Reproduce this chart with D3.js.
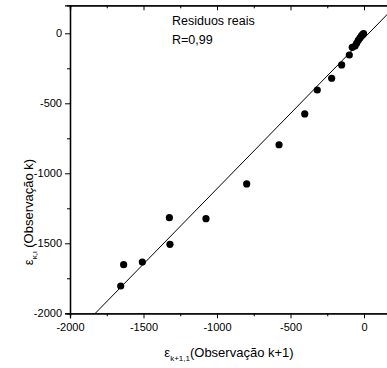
<!DOCTYPE html>
<html><head><meta charset="utf-8">
<script src="https://cdn.jsdelivr.net/npm/d3@7"></script>
<style>body{margin:0;background:#fff;} svg{display:block;font-family:"Liberation Sans",Arial,sans-serif;}</style>
</head><body>
<script>
const xObs = [-1655,-1635,-1508,-1324,-1320,-1075,-798,-578,-403,-318,-220,-152,-100,-80,-61,-50,-39,-27,-16,-8,-3];
const yObs = [-1805,-1653,-1634,-1317,-1507,-1324,-1076,-796,-576,-405,-321,-226,-155,-100,-91,-71,-50,-32,-16,-8,-2];
const fitIntercept = -35;
const fitSlope = 1.075;
const xTicks = [-2000,-1500,-1000,-500,0];
const yTicks = [0,-500,-1000,-1500,-2000];
const xMinor = [-1750,-1250,-750,-250];
const yMinor = [-250,-750,-1250,-1750];
const labels = ["Residuos reais","R=0,99"];

const W=387,H=368;
const svg=d3.select("body").append("svg").attr("width",W).attr("height",H);
const x=d3.scaleLinear().domain([-2000,200]).range([70,70+2200*0.147]);
const y=d3.scaleLinear().domain([-2000,200]).range([313.3,5.3]);
const L=70,R=x(200),T=y(200),B=y(-2000);
const fmt=d=>String(d);

svg.append("defs").append("clipPath").attr("id","c").append("rect")
  .attr("x",L).attr("y",T).attr("width",R-L).attr("height",B-T);

// fit line
const x0=(-2000-fitIntercept)/fitSlope, x1=200;
svg.append("line").attr("clip-path","url(#c)")
  .attr("x1",x(x0)).attr("y1",y(fitIntercept+fitSlope*x0))
  .attr("x2",x(x1)).attr("y2",y(fitIntercept+fitSlope*x1))
  .attr("stroke","#000").attr("stroke-width",1);

// points
svg.selectAll("circle.p").data(xObs.map((v,i)=>[v,yObs[i]])).enter().append("circle")
  .attr("cx",d=>x(d[0])).attr("cy",d=>y(d[1])).attr("r",3.6).attr("fill","#000");

// axes
const gB=svg.append("g").attr("transform",`translate(0,${B})`)
  .call(d3.axisBottom(x).tickValues(xTicks).tickSize(5).tickPadding(3).tickFormat(fmt));
const gBm=svg.append("g").attr("transform",`translate(0,${B})`)
  .call(d3.axisBottom(x).tickValues(xMinor).tickSize(3).tickFormat(""));
const gT=svg.append("g").attr("transform",`translate(0,${T})`)
  .call(d3.axisBottom(x).tickValues(xTicks).tickSize(5).tickFormat(""));
const gTm=svg.append("g").attr("transform",`translate(0,${T})`)
  .call(d3.axisBottom(x).tickValues(xMinor).tickSize(3).tickFormat(""));
const gL=svg.append("g").attr("transform",`translate(${L},0)`)
  .call(d3.axisLeft(y).tickValues(yTicks).tickSize(5).tickPadding(3).tickFormat(fmt));
const gLm=svg.append("g").attr("transform",`translate(${L},0)`)
  .call(d3.axisLeft(y).tickValues(yMinor).tickSize(3).tickFormat(""));
[gB,gBm,gT,gTm,gL,gLm].forEach(g=>{
  g.select(".domain").attr("stroke","#000").attr("stroke-width",1.3);
  g.selectAll(".tick line").attr("stroke","#000").attr("stroke-width",1);
  g.selectAll("text").attr("font-size",11).attr("fill","#000").attr("font-family","'Liberation Sans',Arial,sans-serif");
});
gB.selectAll("text").attr("dy","0.9em");

// annotations
svg.selectAll("text.ann").data(labels).enter().append("text")
  .attr("x",172).attr("y",(d,i)=>25+i*19).attr("font-size",12.5).text(d=>d);

// x label
const xl=svg.append("text").attr("x",229).attr("y",357).attr("text-anchor","middle").attr("font-size",13);
xl.append("tspan").text("ε");
xl.append("tspan").attr("font-size",8).attr("dy",4).text("k+1,1");
xl.append("tspan").attr("dy",-4).text("(Observação k+1)");

// y label
const yl=svg.append("text").attr("transform","translate(33,212) rotate(-90)").attr("text-anchor","middle").attr("font-size",13);
yl.append("tspan").text("ε");
yl.append("tspan").attr("font-size",8).attr("dy",4).text("κ,ι");
yl.append("tspan").attr("dy",-4).text(" (Observação k)");
</script>
</body></html>
